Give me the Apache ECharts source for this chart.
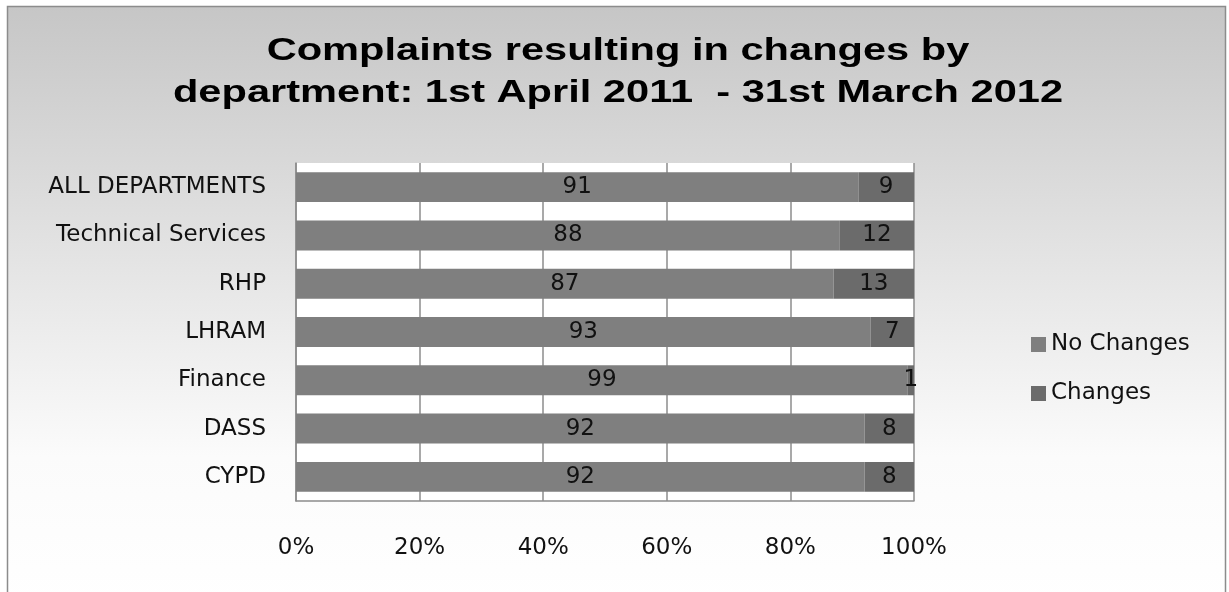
<!DOCTYPE html>
<html>
<head>
<meta charset="utf-8">
<script src="https://cdn.jsdelivr.net/npm/echarts@6/dist/echarts.min.js"></script>
<style>
  html, body { margin: 0; padding: 0; background: #ffffff; }
  #chart { width: 1229px; height: 592px; }
</style>
</head>
<body>
<div id="chart"></div>
<script>
// Departments, listed top to bottom
var departments = ['ALL DEPARTMENTS', 'Technical Services', 'RHP', 'LHRAM', 'Finance', 'DASS', 'CYPD'];
// Percentage of complaints per department
var noChanges = [91, 88, 87, 93, 99, 92, 92];
var changes = [9, 12, 13, 7, 1, 8, 8];
var tickValues = [0, 20, 40, 60, 80, 100];
var titleLines = ['Complaints resulting in changes by', 'department: 1st April 2011  - 31st March 2012'];

var labelFont = '"DejaVu Sans", sans-serif';
var titleFont = 'bold 32px "Liberation Sans", Arial, sans-serif';

var chart = echarts.init(document.getElementById('chart'), null, { renderer: 'canvas' });

// Title lines, drawn wide
var titleGraphics = titleLines.map(function (line, i) {
  return {
    type: 'text',
    x: 618,
    y: 51 + i * 42,
    scaleX: 1.3,
    scaleY: 1,
    silent: true,
    style: {
      text: line,
      font: titleFont,
      fill: '#000000',
      align: 'center',
      verticalAlign: 'middle'
    }
  };
});

chart.setOption({
  animation: false,
  graphic: [{
    type: 'rect',
    z: -10,
    silent: true,
    shape: { x: 7.5, y: 6.5, width: 1218, height: 600 },
    style: {
      fill: new echarts.graphic.LinearGradient(0, 0, 0, 1, [
        { offset: 0, color: '#c6c6c6' },
        { offset: 0.75, color: '#fbfbfb' },
        { offset: 1, color: '#ffffff' }
      ]),
      stroke: '#8c8c8c',
      lineWidth: 1.5
    }
  }, {
    type: 'rect',
    z: -5,
    silent: true,
    shape: { x: 296, y: 163, width: 618, height: 338 },
    style: { fill: '#ffffff' }
  }].concat(titleGraphics),
  legend: {
    orient: 'vertical',
    left: 1026,
    top: 328,
    itemWidth: 15,
    itemHeight: 15,
    itemGap: 26,
    icon: 'rect',
    textStyle: { fontFamily: labelFont, fontSize: 23, color: '#111111', padding: [0, 0, 0, 0] },
    data: ['No Changes', 'Changes']
  },
  grid: { left: 296, right: 315, top: 163, bottom: 91, containLabel: false },
  xAxis: {
    type: 'value',
    min: 0,
    max: 100,
    interval: 20,
    axisLine: { show: true, lineStyle: { color: '#8c8c8c', width: 1.5 } },
    axisTick: { show: false },
    splitLine: { show: true, lineStyle: { color: '#8c8c8c', width: 1.5 } },
    axisLabel: {
      margin: 36,
      fontFamily: labelFont,
      fontSize: 23,
      color: '#111111',
      formatter: function (v) { return tickValues.indexOf(v) >= 0 ? v + '%' : ''; }
    }
  },
  yAxis: {
    type: 'category',
    inverse: true,
    data: departments,
    axisLine: { show: true, lineStyle: { color: '#8c8c8c', width: 1.5 } },
    axisTick: { show: false },
    axisLabel: { margin: 30, fontFamily: labelFont, fontSize: 23, color: '#111111' }
  },
  series: [{
    name: 'No Changes',
    type: 'bar',
    stack: 'total',
    barWidth: '62%',
    itemStyle: { color: '#7f7f7f' },
    label: { show: true, position: 'inside', fontFamily: labelFont, fontSize: 23, color: '#111111' },
    data: noChanges
  }, {
    name: 'Changes',
    type: 'bar',
    stack: 'total',
    barWidth: '62%',
    itemStyle: { color: '#6b6b6b' },
    label: { show: true, position: 'inside', fontFamily: labelFont, fontSize: 23, color: '#111111' },
    data: changes
  }]
});
</script>
</body>
</html>
